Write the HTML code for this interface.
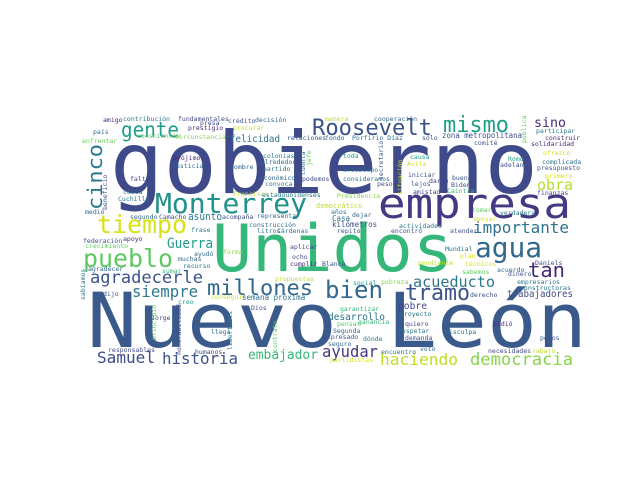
<!DOCTYPE html>
<html><head><meta charset="utf-8"><style>
html,body{margin:0;padding:0;background:#fff;}
svg{display:block;}
text{font-family:"DejaVu Sans Mono","Liberation Mono",monospace;}
</style></head><body>
<svg width="640" height="480" viewBox="0 0 640 480">
<rect width="640" height="480" fill="#fff"/>
<g>
<text x="110" y="193" font-size="86" fill="#3e4a89" textLength="428" lengthAdjust="spacingAndGlyphs">gobierno</text>
<text x="212" y="271" font-size="65" fill="#35b779" textLength="241" lengthAdjust="spacingAndGlyphs">Unidos</text>
<text x="87" y="347" font-size="76" fill="#3b5a8c" textLength="500" lengthAdjust="spacingAndGlyphs">Nuevo León</text>
<text x="378" y="218" font-size="42" fill="#443983" textLength="193" lengthAdjust="spacingAndGlyphs">empresa</text>
<text x="155" y="213" font-size="28" fill="#21918c" textLength="152" lengthAdjust="spacingAndGlyphs">Monterrey</text>
<text x="121" y="137" font-size="21" fill="#1f9e89" textLength="58" lengthAdjust="spacingAndGlyphs">gente</text>
<text transform="translate(102,210) rotate(-90)" font-size="20" fill="#2a788e" textLength="66" lengthAdjust="spacingAndGlyphs">cinco</text>
<text x="97" y="233" font-size="25" fill="#d8e219" textLength="90" lengthAdjust="spacingAndGlyphs">tiempo</text>
<text x="83" y="267" font-size="25" fill="#5ec962" textLength="90" lengthAdjust="spacingAndGlyphs">pueblo</text>
<text x="167" y="248" font-size="14" fill="#1f9e89" textLength="46" lengthAdjust="spacingAndGlyphs">Guerra</text>
<text x="90" y="283" font-size="17" fill="#3b528b" textLength="113" lengthAdjust="spacingAndGlyphs">agradecerle</text>
<text x="207" y="295" font-size="21" fill="#31688e" textLength="106" lengthAdjust="spacingAndGlyphs">millones</text>
<text x="132" y="297" font-size="16" fill="#2a788e" textLength="66" lengthAdjust="spacingAndGlyphs">siempre</text>
<text x="97" y="363" font-size="16" fill="#3e4989" textLength="58" lengthAdjust="spacingAndGlyphs">Samuel</text>
<text x="162" y="364" font-size="16" fill="#3b528b" textLength="76" lengthAdjust="spacingAndGlyphs">historia</text>
<text x="248" y="359" font-size="13" fill="#35b779" textLength="70" lengthAdjust="spacingAndGlyphs">embajador</text>
<text x="312" y="135" font-size="22" fill="#3b528b" textLength="120" lengthAdjust="spacingAndGlyphs">Roosevelt</text>
<text x="443" y="132" font-size="22" fill="#1f9e89" textLength="66" lengthAdjust="spacingAndGlyphs">mismo</text>
<text x="534" y="127" font-size="13" fill="#482878" textLength="32" lengthAdjust="spacingAndGlyphs">sino</text>
<text x="537" y="190" font-size="15" fill="#b5de2b" textLength="36" lengthAdjust="spacingAndGlyphs">obra</text>
<text x="473" y="233" font-size="16" fill="#2c728e" textLength="96" lengthAdjust="spacingAndGlyphs">importante</text>
<text x="475" y="257" font-size="28" fill="#31688e" textLength="67" lengthAdjust="spacingAndGlyphs">agua</text>
<text x="528" y="277" font-size="20" fill="#482878" textLength="37" lengthAdjust="spacingAndGlyphs">tan</text>
<text x="413" y="287" font-size="15" fill="#2a788e" textLength="82" lengthAdjust="spacingAndGlyphs">acueducto</text>
<text x="325" y="298" font-size="24" fill="#31688e" textLength="58" lengthAdjust="spacingAndGlyphs">bien</text>
<text x="405" y="300" font-size="22" fill="#3b528b" textLength="65" lengthAdjust="spacingAndGlyphs">tramo</text>
<text x="507" y="297" font-size="10" fill="#3e4a89" textLength="66" lengthAdjust="spacingAndGlyphs">trabajadores</text>
<text x="398" y="309" font-size="10" fill="#414487" textLength="29" lengthAdjust="spacingAndGlyphs">pobre</text>
<text x="328" y="320" font-size="10" fill="#2c728e" textLength="57" lengthAdjust="spacingAndGlyphs">desarrollo</text>
<text x="322" y="357" font-size="16" fill="#453581" textLength="56" lengthAdjust="spacingAndGlyphs">ayudar</text>
<text x="380" y="365" font-size="16" fill="#bddf26" textLength="78" lengthAdjust="spacingAndGlyphs">haciendo</text>
<text x="470" y="365" font-size="17" fill="#86d549" textLength="103" lengthAdjust="spacingAndGlyphs">democracia</text>
<text x="230" y="142" font-size="10" fill="#2c728e" textLength="50" lengthAdjust="spacingAndGlyphs">felicidad</text>
<text x="188" y="220" font-size="11" fill="#2a788e" textLength="34" lengthAdjust="spacingAndGlyphs">asunto</text>
<text x="442" y="138" font-size="7.5" fill="#3b528b" textLength="80" lengthAdjust="spacingAndGlyphs">zona metropolitana</text>
</g>
<g font-size="6.5">
<text x="103" y="122" fill="#482878">amigo</text>
<text x="123" y="121" fill="#2a788e">contribución</text>
<text x="178" y="121" fill="#414487">fundamentales</text>
<text x="200" y="125" fill="#3e4a89">presa</text>
<text x="188" y="130" fill="#482878">prestigio</text>
<text x="228" y="123" fill="#3b528b">crédito</text>
<text x="255" y="122" fill="#31688e">decisión</text>
<text x="93" y="134" fill="#31688e">país</text>
<text x="233" y="130" fill="#bddf26">procurar</text>
<text x="82" y="143" fill="#6ece58">enfrentar</text>
<text x="137" y="138" fill="#5ec962">consciencia</text>
<text x="175" y="139" fill="#86d549">circunstancia</text>
<text x="287" y="140" fill="#3b528b">relaciones</text>
<text x="173" y="160" fill="#482878">prójimo</text>
<text x="172" y="168" fill="#31688e">justicia</text>
<text x="263" y="158" fill="#2a788e">colonias</text>
<text x="261" y="164" fill="#31688e">alrededor</text>
<text x="230" y="169" fill="#31688e">nombre</text>
<text x="263" y="171" fill="#2a788e">partido</text>
<text x="130" y="181" fill="#414487">falta</text>
<text x="260" y="180" fill="#31688e">económico</text>
<text x="265" y="186" fill="#2a788e">convoca</text>
<text x="302" y="181" fill="#3e4a89">podemos</text>
<text x="123" y="194" fill="#2c728e">cerca</text>
<text x="118" y="201" fill="#2a788e">Cuchillo</text>
<text x="233" y="196" fill="#bddf26">Francisco</text>
<text x="262" y="197" fill="#2a788e">estadounidenses</text>
<text x="85" y="214" fill="#31688e">medio</text>
<text x="130" y="219" fill="#31688e">segundo</text>
<text x="159" y="219" fill="#3b528b">Camacho</text>
<text x="222" y="219" fill="#3e4a89">acompaña</text>
<text x="257" y="218" fill="#31688e">representa</text>
<text x="249" y="227" fill="#2c728e">construcción</text>
<text x="191" y="232" fill="#2a788e">frase</text>
<text x="257" y="233" fill="#2a788e">litros</text>
<text x="277" y="233" fill="#2a788e">Cárdenas</text>
<text x="325" y="121" fill="#bddf26">manera</text>
<text x="374" y="121" fill="#31688e">cooperación</text>
<text x="325" y="140" fill="#31688e">fondo</text>
<text x="352" y="140" fill="#31688e">Porfirio Díaz</text>
<text x="422" y="140" fill="#3b528b">sólo</text>
<text x="474" y="145" fill="#3b528b">comité</text>
<text x="531" y="146" fill="#482878">solidaridad</text>
<text x="536" y="133" fill="#2a788e">participar</text>
<text x="545" y="140" fill="#482878">construir</text>
<text x="543" y="155" fill="#d8e219">ofrezco</text>
<text x="343" y="158" fill="#1f9e89">toda</text>
<text x="410" y="159" fill="#1f9e89">causa</text>
<text x="508" y="161" fill="#1f9e89">Romo</text>
<text x="542" y="164" fill="#2c728e">complicada</text>
<text x="407" y="166" fill="#d8e219">Ávila</text>
<text x="500" y="167" fill="#3b528b">adelante</text>
<text x="537" y="170" fill="#3b528b">presupuesto</text>
<text x="545" y="178" fill="#d8e219">primero</text>
<text x="343" y="172" fill="#2a788e">arzobispo</text>
<text x="408" y="177" fill="#3b528b">iniciar</text>
<text x="343" y="181" fill="#2a788e">consideramos</text>
<text x="452" y="180" fill="#3b528b">buena</text>
<text x="429" y="183" fill="#414487">darle</text>
<text x="377" y="186" fill="#3b528b">pesos</text>
<text x="411" y="186" fill="#3b528b">lejos</text>
<text x="451" y="187" fill="#3b528b">Biden</text>
<text x="413" y="194" fill="#414487">amistad</text>
<text x="447" y="193" fill="#35b779">Caintra</text>
<text x="537" y="195" fill="#3e4a89">finanzas</text>
<text x="337" y="198" fill="#86d549">Presidencia</text>
<text x="316" y="208" fill="#bddf26" font-size="7">democrático</text>
<text x="331" y="214" fill="#2c728e">años</text>
<text x="352" y="217" fill="#31688e">dejar</text>
<text x="472" y="212" fill="#5ec962">tomar</text>
<text x="500" y="215" fill="#2a788e">verdadera</text>
<text x="332" y="221" fill="#2c728e" font-size="7.5">Casa</text>
<text x="473" y="221" fill="#d8e219">apoyar</text>
<text x="332" y="227" fill="#3e4a89" font-size="7.5">kilómetros</text>
<text x="399" y="228" fill="#2a788e">actividades</text>
<text x="337" y="233" fill="#3b528b">repito</text>
<text x="391" y="233" fill="#3b528b">encontró</text>
<text x="450" y="233" fill="#3b528b">atender</text>
<text x="83" y="243" fill="#3e4a89">federación</text>
<text x="123" y="241" fill="#482878">apoyo</text>
<text x="85" y="248" fill="#5ec962">crecimiento</text>
<text x="290" y="249" fill="#3e4a89">aplicar</text>
<text x="445" y="251" fill="#2a788e">Mundial</text>
<text x="194" y="256" fill="#31688e">ayudó</text>
<text x="223" y="254" fill="#86d549">forma</text>
<text x="460" y="258" fill="#d8e219">plan</text>
<text x="292" y="259" fill="#3e4a89">ocho</text>
<text x="178" y="261" fill="#31688e">muchas</text>
<text x="322" y="266" fill="#3b528b">Blanca</text>
<text x="418" y="265" fill="#bddf26">pendiente</text>
<text x="465" y="266" fill="#d8e219">técnicos</text>
<text x="535" y="265" fill="#3b528b">Daniels</text>
<text x="183" y="268" fill="#2a788e">recurso</text>
<text x="290" y="266" fill="#482878">cumplir</text>
<text x="88" y="271" fill="#31688e">agradecer</text>
<text x="162" y="273" fill="#35b779">sumar</text>
<text x="462" y="274" fill="#5ec962">sabemos</text>
<text x="497" y="272" fill="#31688e">acuerdo</text>
<text x="508" y="276" fill="#3b528b">dinero</text>
<text x="275" y="281" fill="#bddf26">propuestas</text>
<text x="517" y="284" fill="#2a788e">empresarios</text>
<text x="520" y="290" fill="#2a788e">constructoras</text>
<text x="353" y="285" fill="#1f9e89">social</text>
<text x="381" y="284" fill="#86d549">pobreza</text>
<text x="103" y="296" fill="#3e4a89">dijo</text>
<text x="470" y="297" fill="#3b528b">derecho</text>
<text x="211" y="299" fill="#d8e219">conseguir</text>
<text x="242" y="300" fill="#2c728e" font-size="7.5">semana próxima</text>
<text x="178" y="304" fill="#1f9e89">creo</text>
<text x="251" y="310" fill="#3e4a89">Dios</text>
<text x="340" y="311" fill="#35b779">garantizar</text>
<text x="400" y="316" fill="#2c728e">proyecto</text>
<text x="151" y="320" fill="#3e4a89">Jorge</text>
<text x="358" y="324" fill="#35b779">ganancia</text>
<text x="337" y="326" fill="#5ec962">pensar</text>
<text x="405" y="326" fill="#3e4a89">quiero</text>
<text x="493" y="326" fill="#482878">pidió</text>
<text x="333" y="333" fill="#31688e">Segunda</text>
<text x="398" y="333" fill="#2a788e">respetar</text>
<text x="445" y="334" fill="#2c728e">disculpa</text>
<text x="211" y="334" fill="#2c728e">llega</text>
<text x="323" y="339" fill="#3b528b">expresado</text>
<text x="363" y="341" fill="#2a788e">dónde</text>
<text x="405" y="340" fill="#3b528b">demanda</text>
<text x="540" y="340" fill="#3b528b">pocos</text>
<text x="328" y="346" fill="#31688e">seguro</text>
<text x="420" y="351" fill="#31688e">voto</text>
<text x="108" y="352" fill="#3e4a89">responsables</text>
<text x="195" y="354" fill="#3e4a89">humanos</text>
<text x="381" y="354" fill="#2a788e">encuentro</text>
<text x="488" y="353" fill="#3e4a89">necesidades</text>
<text x="528" y="353" fill="#bddf26">trabajo</text>
<text x="330" y="362" fill="#d8e219">partidistas</text>
<text transform="translate(107,210) rotate(-90)" fill="#3e4a89">beneficio</text>
<text transform="translate(156,340) rotate(-90)" fill="#5ec962">principio</text>
<text transform="translate(181,355) rotate(-90)" fill="#3e4a89">honorabilidad</text>
<text transform="translate(232,350) rotate(-90)" fill="#2a788e">libertades</text>
<text transform="translate(277,352) rotate(-90)" fill="#5ec962">contrato</text>
<text transform="translate(85,300) rotate(-90)" fill="#2c728e">sabíamos</text>
<text transform="translate(383,180) rotate(-90)" fill="#3b528b">secretario</text>
<text transform="translate(402,195) rotate(-90)" fill="#d8e219">situación</text>
<text transform="translate(311,166) rotate(-90)" fill="#5ec962">jefe</text>
<text transform="translate(305,175) rotate(-90)" fill="#2a788e">cuenta</text>
<text transform="translate(526,143) rotate(-90)" fill="#5ec962">pública</text>
</g>
</svg>
</body></html>
